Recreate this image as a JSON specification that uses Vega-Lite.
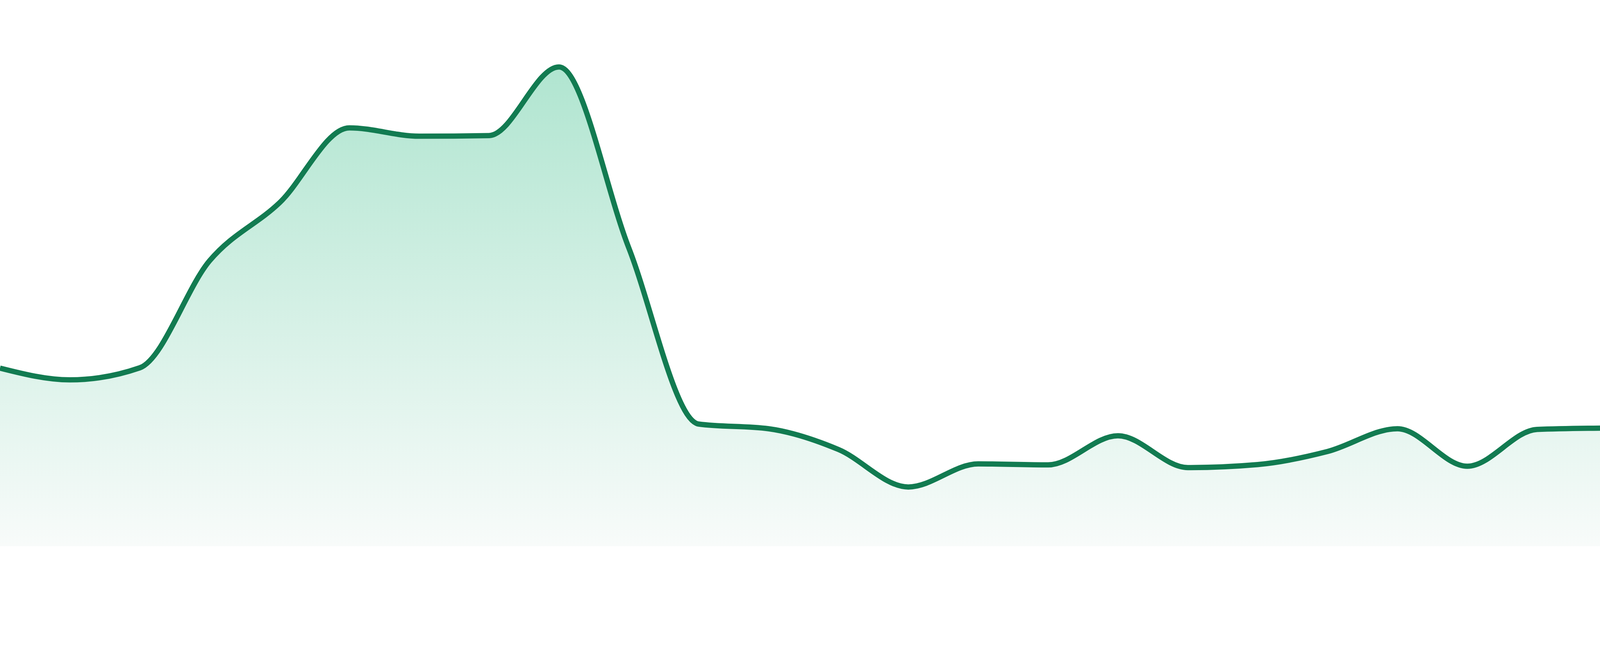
{
  "$schema": "https://vega.github.io/schema/vega-lite/v6.json",
  "autosize": {"type": "none"},
  "width": 4114,
  "height": 1440,
  "padding": 0,
  "background": "white",
  "config": {"view": {"stroke": null}},
  "data": {
    "values": [
      {"step": 0, "value": 532},
      {"step": 1, "value": 497},
      {"step": 2, "value": 533},
      {"step": 3, "value": 853},
      {"step": 4, "value": 1026},
      {"step": 5, "value": 1250},
      {"step": 6, "value": 1225},
      {"step": 7, "value": 1227},
      {"step": 8, "value": 1432},
      {"step": 9, "value": 891},
      {"step": 10, "value": 365},
      {"step": 11, "value": 351},
      {"step": 12, "value": 289},
      {"step": 13, "value": 177},
      {"step": 14, "value": 246},
      {"step": 15, "value": 243},
      {"step": 16, "value": 330},
      {"step": 17, "value": 235},
      {"step": 18, "value": 244},
      {"step": 19, "value": 283},
      {"step": 20, "value": 351},
      {"step": 21, "value": 239},
      {"step": 22, "value": 349},
      {"step": 23, "value": 353}
    ]
  },
  "encoding": {
    "x": {"field": "step", "type": "quantitative", "axis": null,
          "scale": {"domain": [0, 23], "nice": false, "zero": false}},
    "y": {"field": "value", "type": "quantitative", "axis": null,
          "scale": {"domain": [-48, 1632], "nice": false, "zero": false}}
  },
  "layer": [
    {
      "mark": {
        "type": "area",
        "interpolate": "monotone",
        "fill": {
          "gradient": "linear",
          "x1": 0, "y1": 0, "x2": 0, "y2": 1,
          "stops": [
            {"offset": 0, "color": "#b0e5d0"},
            {"offset": 1, "color": "#f8fbfa"}
          ]
        }
      }
    },
    {
      "mark": {"type": "line", "interpolate": "monotone", "color": "#127b51", "strokeWidth": 13.5}
    }
  ]
}
